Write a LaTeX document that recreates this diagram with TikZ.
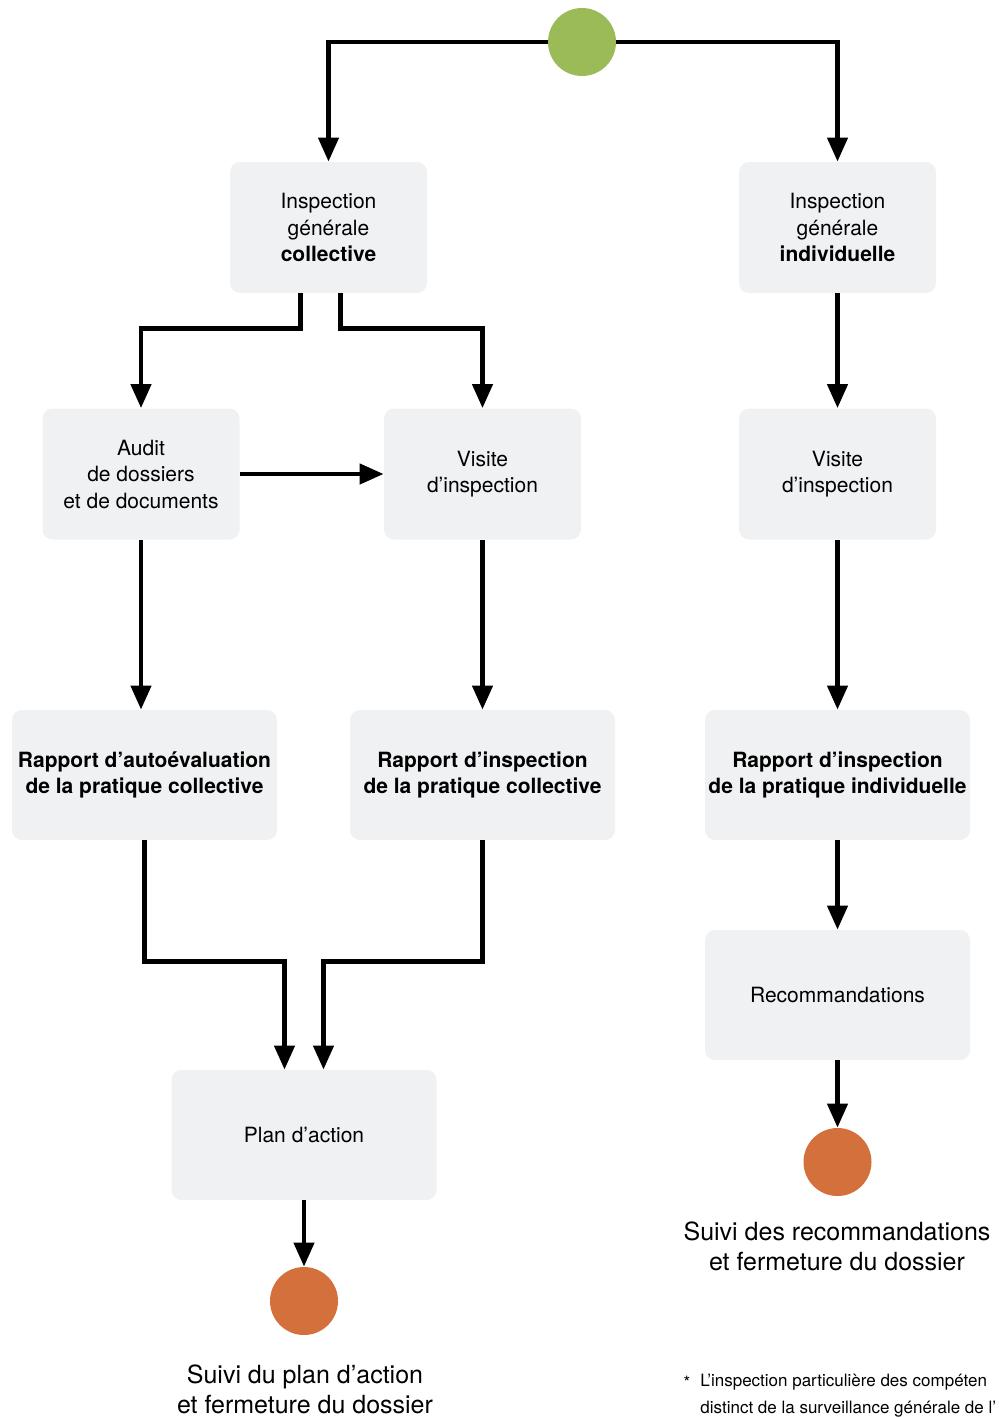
\documentclass[tikz,border=0pt]{standalone}
\usepackage{fontspec}
\setmainfont{TeX Gyre Heros}
\usepackage{tikz}
\usetikzlibrary{arrows.meta, positioning}
\usepackage{xcolor}
\definecolor{boxgray}{HTML}{F0F1F3}
\definecolor{startgreen}{HTML}{9BBB59}
\definecolor{endorange}{HTML}{D4703B}

\tikzset{
  stepbox/.style={fill=boxgray, rounded corners=5pt, inner sep=0pt, align=center,
    minimum width=98.5pt, minimum height=65.5pt, font=\fontsize{10.5}{13.25}\selectfont},
  widebox/.style={stepbox, minimum width=132.5pt, minimum height=65pt},
  flow/.style={line width=2.2pt, -{Triangle[length=12pt,width=10pt]}},
  startdot/.style={circle, fill=startgreen, minimum size=34pt, inner sep=0pt},
  enddot/.style={circle, fill=endorange, minimum size=34pt, inner sep=0pt},
  endlabel/.style={align=center, font=\fontsize{12.5}{15}\selectfont}
}

\begin{document}
\begin{tikzpicture}[x=0.5pt, y=0.5pt]
  \useasboundingbox (0,0) rectangle (998,-1418);
  \clip (0,0) rectangle (998,-1418);
  % debut
  \node[startdot] (start) at (582,-42) {};
  % branche collective
  \node[stepbox] (igc) at (328.5,-227.5) {Inspection\\générale\\\textbf{collective}};
  \node[stepbox] (audit) at (141,-474) {Audit\\de dossiers\\et de documents};
  \node[stepbox] (vc) at (482.5,-474) {Visite\\d’inspection};
  \node[widebox] (rae) at (144.5,-775) {\textbf{Rapport d’autoévaluation}\\\textbf{de la pratique collective}};
  \node[widebox] (ric) at (482.5,-775) {\textbf{Rapport d’inspection}\\\textbf{de la pratique collective}};
  \node[widebox] (plan) at (304,-1135) {Plan d’action};
  \node[enddot] (end1) at (304,-1301) {};
  \node[endlabel] (lab1) at (305,-1389) {Suivi du plan d’action\\et fermeture du dossier};
  % branche individuelle
  \node[stepbox] (igi) at (837.5,-227.5) {Inspection\\générale\\\textbf{individuelle}};
  \node[stepbox] (vi) at (837.5,-474) {Visite\\d’inspection};
  \node[widebox] (rii) at (837.5,-775) {\textbf{Rapport d’inspection}\\\textbf{de la pratique individuelle}};
  \node[widebox] (reco) at (837.5,-995) {Recommandations};
  \node[enddot] (end2) at (837.5,-1162) {};
  \node[endlabel] (lab2) at (837,-1246) {Suivi des recommandations\\et fermeture du dossier};
  % note
  \node[font=\fontsize{8.5}{13.5}\selectfont] (star) at (687,-1382) {*};
  \node[anchor=west, align=left, inner sep=0pt, font=\fontsize{8.5}{13.5}\selectfont] (note) at (700,-1395.5)
    {L’inspection particulière des compéten\\distinct de la surveillance générale de l’};
  % connecteurs
  \draw[flow] (start.west) -| (igc.north);
  \draw[flow] (start.east) -| (igi.north);
  \draw[flow] ([xshift=-14pt]igc.south) -- ++(0,-35) -| (audit.north);
  \draw[flow] ([xshift=6pt]igc.south) -- ++(0,-35) -| (vc.north);
  \draw[flow] (audit) -- (vc);
  \draw[flow] (audit.south) -- (audit.south |- rae.north);
  \draw[flow] (vc) -- (ric);
  \draw[flow] (rae.south) -- ++(0,-121) -| ([xshift=-9.75pt]plan.north);
  \draw[flow] (ric.south) -- ++(0,-121) -| ([xshift=9.75pt]plan.north);
  \draw[flow] (plan) -- (end1);
  \draw[flow] (igi) -- (vi);
  \draw[flow] (vi) -- (rii);
  \draw[flow] (rii) -- (reco);
  \draw[flow] (reco) -- (end2);
\end{tikzpicture}
\end{document}
